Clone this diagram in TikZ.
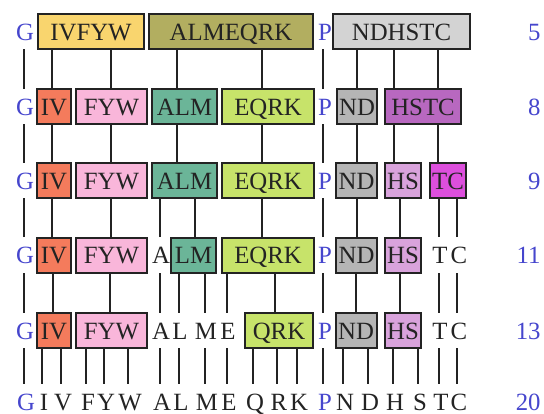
\documentclass[tikz,border=0pt]{standalone}
\usepackage{fontspec}
\setmainfont{Liberation Serif}
\usepackage{tikz}
\definecolor{bleu}{RGB}{70,70,205}
\definecolor{noir}{RGB}{35,35,35}
\definecolor{jaune}{RGB}{249,213,110}
\definecolor{kaki}{RGB}{178,174,96}
\definecolor{grisclair}{RGB}{211,211,211}
\definecolor{corail}{RGB}{244,123,92}
\definecolor{rose}{RGB}{249,182,218}
\definecolor{sarcelle}{RGB}{107,181,152}
\definecolor{anis}{RGB}{199,227,106}
\definecolor{grismoyen}{RGB}{181,181,181}
\definecolor{prune}{RGB}{184,104,192}
\definecolor{mauve}{RGB}{217,163,220}
\definecolor{fuchsia}{RGB}{221,79,221}

\begin{document}
\begin{tikzpicture}[x=0.5pt, y=-0.5pt, font=\fontsize{12.4}{14}\selectfont,
	lettre/.style={inner sep=0pt, minimum height=17.5pt, text height=8.5pt, text depth=0pt, text=noir},
	boite/.style={lettre, draw=noir, line width=1pt, fill=#1},
	lien/.style={line width=1pt, draw=noir}]
	\useasboundingbox (0,0) rectangle (544,413);
	% G et P a chaque niveau
	\foreach \r/\y in {1/31.5, 2/106.5, 3/180.5, 4/255, 5/330.5}{
		\node[lettre, text=bleu] (g\r) at (25,\y) {G};
		\node[lettre, text=bleu] (p\r) at (325,\y) {P};
	}
	% niveau 1
	\node[boite=jaune, minimum width=53pt] (ivfyw1) at (91,31.5) {IVFYW};
	\node[boite=kaki, minimum width=82pt] (almeqrk1) at (231,31.5) {ALMEQRK};
	\node[boite=grisclair, minimum width=68.5pt] (ndhstc1) at (401.5,31.5) {NDHSTC};
	% niveau 2
	\node[boite=corail, minimum width=17pt] (iv2) at (54,106.5) {IV};
	\node[boite=rose, minimum width=35.5pt] (fyw2) at (111.5,106.5) {FYW};
	\node[boite=sarcelle, minimum width=32.5pt] (alm2) at (184.5,106.5) {ALM};
	\node[boite=anis, minimum width=46pt] (eqrk2) at (268,106.5) {EQRK};
	\node[boite=grismoyen, minimum width=20pt] (nd2) at (357,106.5) {ND};
	\node[boite=prune, minimum width=38pt] (hstc2) at (423,106.5) {HSTC};
	% niveau 3
	\node[boite=corail, minimum width=17pt] (iv3) at (54,180.5) {IV};
	\node[boite=rose, minimum width=35.5pt] (fyw3) at (111.5,180.5) {FYW};
	\node[boite=sarcelle, minimum width=32.5pt] (alm3) at (184.5,180.5) {ALM};
	\node[boite=anis, minimum width=46pt] (eqrk3) at (268,180.5) {EQRK};
	\node[boite=grismoyen, minimum width=20.5pt] (nd3) at (356.5,180.5) {ND};
	\node[boite=mauve, minimum width=18pt] (hs3) at (403,180.5) {HS};
	\node[boite=fuchsia, minimum width=18pt] (tc3) at (448,180.5) {TC};
	% niveau 4
	\node[boite=corail, minimum width=17pt] (iv4) at (54,255) {IV};
	\node[boite=rose, minimum width=35.5pt] (fyw4) at (111.5,255) {FYW};
	\node[lettre] (a4) at (161,255) {A};
	\node[boite=sarcelle, minimum width=22.5pt] (lm4) at (193.5,255) {LM};
	\node[boite=anis, minimum width=46pt] (eqrk4) at (268,255) {EQRK};
	\node[boite=grismoyen, minimum width=20.5pt] (nd4) at (356.5,255) {ND};
	\node[boite=mauve, minimum width=18pt] (hs4) at (403,255) {HS};
	\node[lettre] (t4) at (440,255) {T};
	\node[lettre] (c4) at (459,255) {C};
	% niveau 5
	\node[boite=corail, minimum width=17pt] (iv5) at (54,330.5) {IV};
	\node[boite=rose, minimum width=35.5pt] (fyw5) at (111.5,330.5) {FYW};
	\node[lettre] (a5) at (161,330.5) {A};
	\node[lettre] (l5) at (180,330.5) {L};
	\node[lettre] (m5) at (206,330.5) {M};
	\node[lettre] (e5) at (228,330.5) {E};
	\node[boite=anis, minimum width=34pt] (qrk5) at (279,330.5) {QRK};
	\node[boite=grismoyen, minimum width=20.5pt] (nd5) at (356,330.5) {ND};
	\node[boite=mauve, minimum width=18pt] (hs5) at (403,330.5) {HS};
	\node[lettre] (t5) at (440,330.5) {T};
	\node[lettre] (c5) at (459,330.5) {C};
	% niveau 6 : une lettre par colonne
	\foreach \l/\x/\c in {G/24/bleu, I/42/noir, V/61/noir, F/86/noir, Y/104/noir, W/128/noir,
		A/160/noir, L/179/noir, M/205/noir, E/227/noir, Q/253/noir, R/277/noir, K/297/noir,
		P/323/bleu, N/343/noir, D/368/noir, H/393/noir, S/418/noir, T/439/noir, C/457/noir}
		\node[lettre, text=\c] (b\l) at (\x+2,401.5) {\l};
	% nombre de groupes
	\foreach \n/\y/\t in {1/31.5/5, 2/106.5/8, 3/180.5/9, 4/255/11, 5/330.5/13, 6/401.5/20}
		\node[lettre, text=bleu, anchor=east] (n\n) at (541,\y) {\t};
	% liens
	\foreach \x/\a/\b in {24/g2/g1, 52/iv2/ivfyw1, 111/fyw2/ivfyw1, 177/alm2/almeqrk1,
		262/eqrk2/almeqrk1, 323/p2/p1, 357/nd2/ndhstc1, 394/hstc2/ndhstc1, 438/hstc2/ndhstc1,
		24/g3/g2, 52/iv3/iv2, 111/fyw3/fyw2, 177/alm3/alm2, 262/eqrk3/eqrk2, 323/p3/p2,
		357/nd3/nd2, 394/hs3/hstc2, 438/tc3/hstc2,
		24/g4/g3, 52/iv4/iv3, 111/fyw4/fyw3, 160/a4/alm3, 195/lm4/alm3, 262/eqrk4/eqrk3,
		323/p4/p3, 357/nd4/nd3, 400/hs4/hs3, 439/t4/tc3, 457/c4/tc3,
		24/g5/g4, 53/iv5/iv4, 110/fyw5/fyw4, 160/a5/a4, 179/l5/lm4, 205/m5/lm4, 227/e5/eqrk4,
		275/qrk5/eqrk4, 323/p5/p4, 356/nd5/nd4, 400/hs5/hs4, 439/t5/t4, 457/c5/c4}
		\draw[lien] (\x,0 |- \a.north) -- (\x,0 |- \b.south);
	\foreach \l/\x/\p in {G/24/g5, I/42/iv5, V/61/iv5, F/86/fyw5, Y/104/fyw5, W/128/fyw5,
		A/160/a5, L/179/l5, M/205/m5, E/227/e5, Q/253/qrk5, R/277/qrk5, K/297/qrk5,
		P/323/p5, N/343/nd5, D/368/nd5, H/393/hs5, S/418/hs5, T/439/t5, C/457/c5}
		\draw[lien] (\x,0 |- b\l.north) -- (\x,0 |- \p.south);
\end{tikzpicture}
\end{document}
